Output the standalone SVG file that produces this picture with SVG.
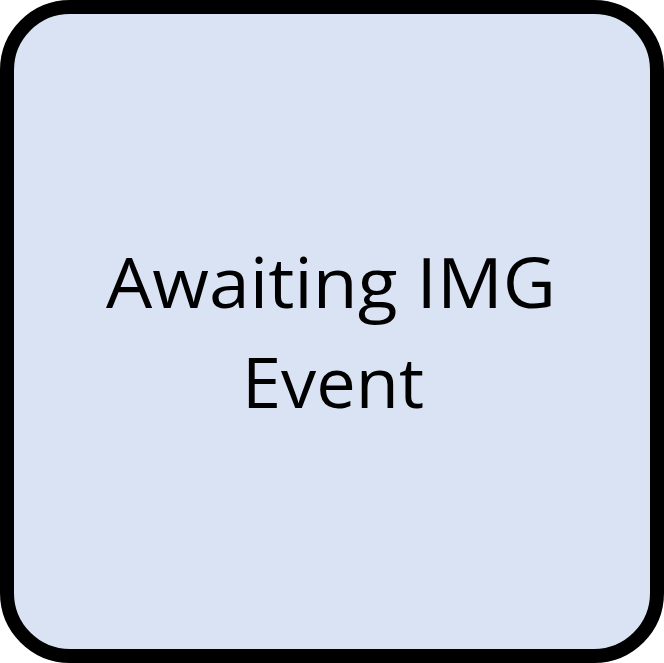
<svg xmlns="http://www.w3.org/2000/svg" width="664" height="663" viewBox="0 0 664 663">
<style>
.box{fill:#dae3f3;stroke:#000;stroke-width:14}
.lbl{font-family:"Open Sans","Liberation Sans",sans-serif;font-size:70px;fill:#000;text-anchor:middle}
</style>
<g id="node-awaiting">
<rect class="box" x="7" y="7" width="650" height="649" rx="63" ry="63"/>
<text class="lbl" x="331" y="308" textLength="450" lengthAdjust="spacingAndGlyphs">Awaiting IMG</text>
<text class="lbl" x="333" y="408" textLength="182" lengthAdjust="spacingAndGlyphs">Event</text>
</g>
<g id="connectors"/>
</svg>
